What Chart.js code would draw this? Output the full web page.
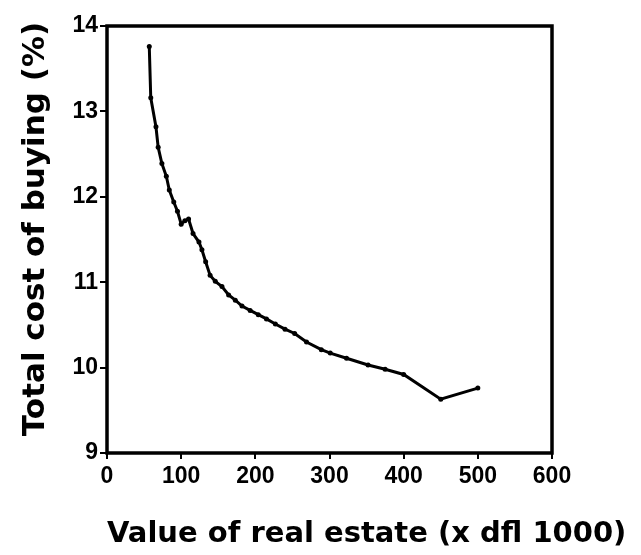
<!DOCTYPE html>
<html>
<head>
<meta charset="utf-8">
<script src="https://cdn.jsdelivr.net/npm/chart.js@4/dist/chart.umd.min.js"></script>
<style>
  html, body { margin: 0; padding: 0; background: #ffffff; }
  #wrap { width: 641px; height: 555px; }
</style>
</head>
<body>
<div id="wrap"><canvas id="chart" width="641" height="555"></canvas></div>
<script>
// Value of real estate (x dfl 1000)
const propertyValue = [57, 59, 66, 69, 74, 80, 84, 90, 95, 100, 105, 110, 116, 124, 128, 133, 139, 146,
  155, 164, 173, 182, 193, 204, 215, 227, 240, 253, 269, 289, 301, 323, 352, 375, 400, 450, 500];
// Total cost of buying (%)
const buyingCost = [13.76, 13.16, 12.82, 12.58, 12.39, 12.24, 12.08, 11.94, 11.83, 11.68, 11.72, 11.74, 11.57, 11.47, 11.38, 11.24, 11.08, 11.01,
  10.95, 10.85, 10.79, 10.72, 10.67, 10.62, 10.57, 10.51, 10.45, 10.40, 10.30, 10.21, 10.17, 10.11, 10.03, 9.98, 9.92, 9.63, 9.76];

const xTicks = [0, 100, 200, 300, 400, 500, 600];
const yTicks = [9, 10, 11, 12, 13, 14];

const xTitle = 'Value of real estate (x dfl 1000)';
const yTitle = 'Total cost of buying (%)';

const points = propertyValue.map((v, i) => ({ x: v, y: buyingCost[i] }));

// Heavy black box around the plotting area, plus the two axis titles
// (drawn by hand so the long x title may run past the plot's right edge)
const framePlugin = {
  id: 'frame',
  afterDraw(chart) {
    const { ctx, chartArea: a } = chart;
    ctx.save();
    ctx.strokeStyle = '#000';
    ctx.lineWidth = 3.5;
    ctx.strokeRect(a.left, a.top, a.right - a.left, a.bottom - a.top);

    ctx.fillStyle = '#000';
    ctx.font = 'bold 29px "DejaVu Sans", sans-serif';
    ctx.textAlign = 'left';
    ctx.textBaseline = 'alphabetic';
    ctx.fillText(xTitle, a.left, 542);

    ctx.font = 'bold 31px "DejaVu Sans", sans-serif';
    ctx.translate(36, 229);
    ctx.rotate(-Math.PI / 2);
    ctx.textAlign = 'center';
    ctx.textBaseline = 'middle';
    ctx.fillText(yTitle, 0, 0);
    ctx.restore();
  }
};

const tickFont = { family: '"Liberation Sans", Arial, sans-serif', weight: 'bold', size: 23 };

new Chart(document.getElementById('chart'), {
  type: 'line',
  data: {
    datasets: [{
      data: points,
      borderColor: '#000',
      backgroundColor: '#000',
      borderWidth: 3,
      pointRadius: 2.5,
      pointBorderWidth: 0,
      pointBackgroundColor: '#000',
      tension: 0,
      fill: false
    }]
  },
  plugins: [framePlugin],
  options: {
    responsive: false,
    animation: false,
    events: [],
    layout: { padding: { top: 26, right: 89, bottom: 0, left: 0 } },
    plugins: { legend: { display: false }, tooltip: { enabled: false } },
    scales: {
      x: {
        type: 'linear',
        min: 0,
        max: 600,
        afterBuildTicks: s => { s.ticks = xTicks.map(v => ({ value: v })); },
        afterFit: s => { s.height = 102; },
        border: { display: false },
        grid: { drawOnChartArea: false, drawTicks: true, tickLength: 6, color: '#000', lineWidth: 2 },
        ticks: { color: '#000', font: tickFont, padding: 4, maxRotation: 0, autoSkip: false },
        title: { display: false }
      },
      y: {
        type: 'linear',
        min: 9,
        max: 14,
        afterBuildTicks: s => { s.ticks = yTicks.map(v => ({ value: v })); },
        afterFit: s => { s.width = 107; },
        border: { display: false },
        grid: { drawOnChartArea: false, drawTicks: true, tickLength: 7, color: '#000', lineWidth: 2 },
        ticks: { color: '#000', font: tickFont, padding: 2, autoSkip: false },
        title: { display: false }
      }
    }
  }
});
</script>
</body>
</html>
